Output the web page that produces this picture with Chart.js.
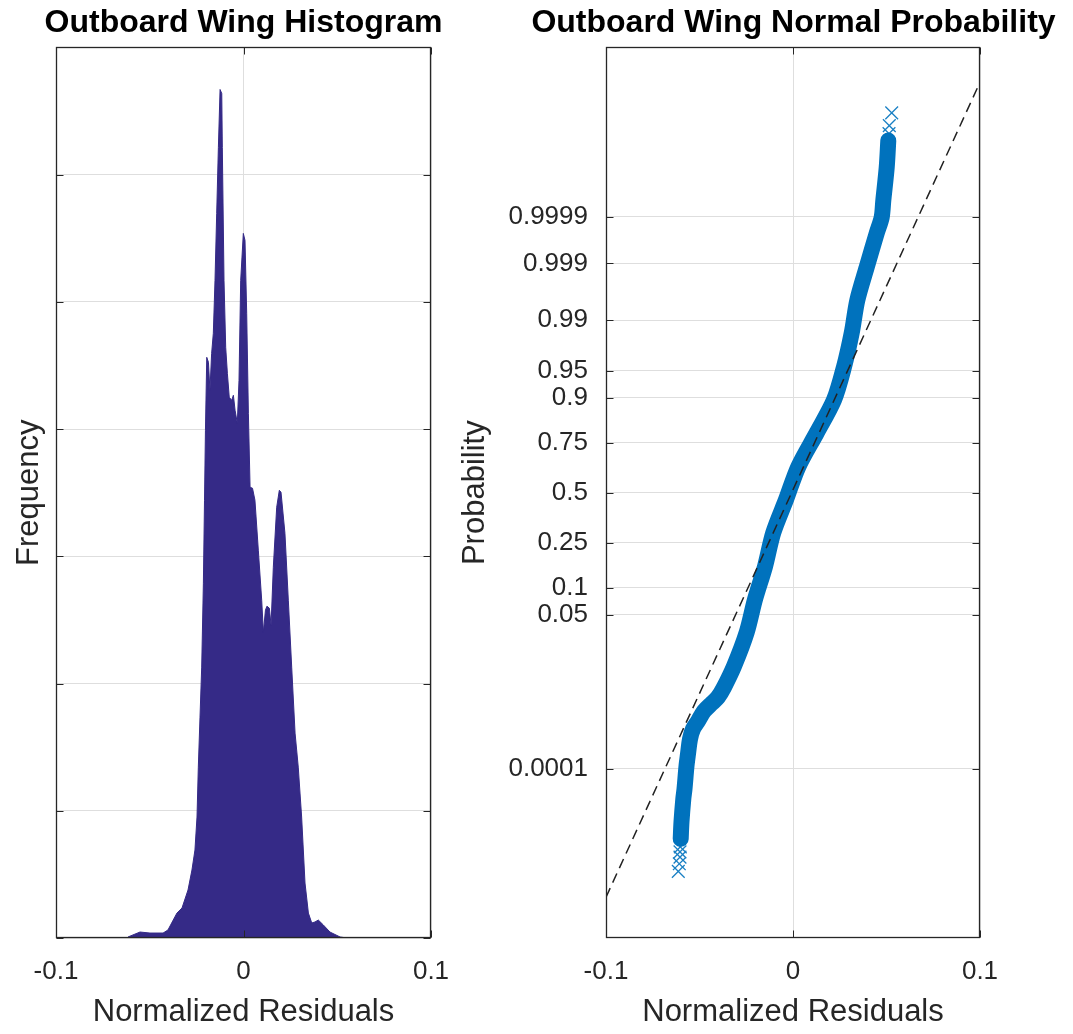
<!DOCTYPE html>
<html>
<head>
<meta charset="utf-8">
<title>Outboard Wing Residuals</title>
<script src="https://cdn.jsdelivr.net/npm/chart.js@4"></script>
<style>
    html, body { margin: 0; padding: 0; background: #fff; overflow: hidden; }
    #wrap { position: relative; width: 1073px; height: 1034px; overflow: hidden; }
    #histWrap { position: absolute; left: 0; top: 0; width: 487px; height: 1034px; }
    #probWrap { position: absolute; left: 440px; top: 0; width: 707px; height: 1034px; }
</style>
</head>
<body>
<div id="wrap">
    <div id="histWrap"><canvas id="histChart"></canvas></div>
    <div id="probWrap"><canvas id="probChart"></canvas></div>
</div>
<script>
// ===== DATA =====
// histogram outline (normalized residual, frequency in grid units)
const histX = [-0.0616, -0.0552, -0.0499, -0.0429, -0.0403, -0.0355, -0.0328, -0.0296, -0.0275, -0.0259,
    -0.0248, -0.0241, -0.0232, -0.0223, -0.0214, -0.0208, -0.0203, -0.0196, -0.0187, -0.0179,
    -0.0170, -0.0161, -0.0152, -0.0143, -0.0134, -0.0125, -0.0116, -0.0113, -0.0104, -0.0095,
    -0.0086, -0.0076, -0.0063, -0.0054, -0.0045, -0.0033, -0.0024, -0.0015, -0.0001, 0.0008,
    0.0017, 0.0026, 0.0035, 0.0048, 0.0061, 0.0079, 0.0097, 0.0106, 0.0117, 0.0125,
    0.0138, 0.0147, 0.0159, 0.0177, 0.0191, 0.0200, 0.0221, 0.0239, 0.0257, 0.0275,
    0.0292, 0.0310, 0.0328, 0.0346, 0.0364, 0.0381, 0.0399, 0.0426, 0.0461, 0.0515, 0.0552];
const histCount = [0.008, 0.047, 0.039, 0.039, 0.063, 0.196, 0.236, 0.377, 0.534, 0.691,
    0.951, 1.343, 1.736, 2.129, 2.789, 3.441, 3.991, 4.564, 4.525, 4.305,
    4.595, 4.753, 5.169, 5.695, 6.214, 6.669, 6.638, 6.214, 5.169, 4.643,
    4.438, 4.250, 4.226, 4.266, 4.148, 4.046, 4.383, 5.169, 5.538, 5.483,
    4.910, 4.124, 3.543, 3.535, 3.441, 3.048, 2.655, 2.404, 2.577, 2.608,
    2.592, 2.459, 2.914, 3.386, 3.519, 3.504, 3.181, 2.655, 2.129, 1.610,
    1.343, 0.951, 0.432, 0.196, 0.118, 0.126, 0.141, 0.102, 0.047, 0.008, 0];
const histTicks = [0, 1, 2, 3, 4, 5, 6, 7];

// normal probability plot: dense body of sorted residuals vs normal quantile
const probX = [-0.06005, -0.05963, -0.05866, -0.05802, -0.05695, -0.05615, -0.05508, -0.05348, -0.0508, -0.04759,
    -0.04332, -0.04011, -0.0369, -0.03155, -0.02476, -0.02032, -0.01497, -0.01053, -0.00374, 0.00283,
    0.01267, 0.02193, 0.02727, 0.03139, 0.03439, 0.03941, 0.04476, 0.04743, 0.04829, 0.05011, 0.05096];
const probZ = [-4.664, -4.435, -4.126, -3.992, -3.683, -3.522, -3.320, -3.185, -3.078, -2.944,
    -2.836, -2.755, -2.621, -2.339, -1.882, -1.438, -0.995, -0.538, -0.094, 0.349,
    0.806, 1.250, 1.694, 2.151, 2.594, 3.038, 3.495, 3.710, 3.938, 4.382, 4.745];
// separate markers in both tails
const tailX = [-0.06134, -0.0608, -0.06043, -0.06043, -0.06027, 0.05134, 0.0515, 0.05278];
const tailZ = [-5.103, -5.000, -4.910, -4.839, -4.772, 4.839, 4.946, 5.117];
// dashed reference line
const refX = [-0.1, 0.1];
const refZ = [-5.45, 5.53];

const probTicks = [0.0001, 0.05, 0.1, 0.25, 0.5, 0.75, 0.9, 0.95, 0.99, 0.999, 0.9999];
const probLabels = ['0.0001', '0.05', '0.1', '0.25', '0.5', '0.75', '0.9', '0.95', '0.99', '0.999', '0.9999'];
const xTicks = [-0.1, 0, 0.1];
const xLabels = ['-0.1', '0', '0.1'];

// ===== HELPERS =====
const FONT = "'Liberation Sans', Arial, Helvetica, sans-serif";
const TEXT = '#262626';
const GRID = '#dedede';

// inverse standard normal CDF (Acklam) - maps probability ticks to the z axis
function normInv(p) {
    const a = [-39.69683028665376, 220.9460984245205, -275.9285104469687, 138.357751867269, -30.66479806614716, 2.506628277459239];
    const b = [-54.47609879822406, 161.5858368580409, -155.6989798598866, 66.80131188771972, -13.28068155288572];
    const c = [-0.007784894002430293, -0.3223964580411365, -2.400758277161838, -2.549732539343734, 4.374664141464968, 2.938163982698783];
    const d = [0.007784695709041462, 0.3224671290700398, 2.445134137142996, 3.754408661907416];
    const pl = 0.02425;
    let q, r;
    if (p < pl) {
        q = Math.sqrt(-2 * Math.log(p));
        return (((((c[0] * q + c[1]) * q + c[2]) * q + c[3]) * q + c[4]) * q + c[5]) /
            ((((d[0] * q + d[1]) * q + d[2]) * q + d[3]) * q + 1);
    }
    if (p > 1 - pl) {
        q = Math.sqrt(-2 * Math.log(1 - p));
        return -(((((c[0] * q + c[1]) * q + c[2]) * q + c[3]) * q + c[4]) * q + c[5]) /
            ((((d[0] * q + d[1]) * q + d[2]) * q + d[3]) * q + 1);
    }
    q = p - 0.5;
    r = q * q;
    return (((((a[0] * r + a[1]) * r + a[2]) * r + a[3]) * r + a[4]) * r + a[5]) * q /
        (((((b[0] * r + b[1]) * r + b[2]) * r + b[3]) * r + b[4]) * r + 1);
}

function toPoints(xs, ys) {
    return xs.map((x, i) => ({ x: x, y: ys[i] }));
}

// axes box with inward tick marks on all four sides
const boxPlugin = {
    id: 'box',
    afterDraw(chart) {
        const { ctx, chartArea: a, scales } = chart;
        const L = Math.round(a.left) + 0.5, R = Math.round(a.right) - 0.5;
        const T = Math.round(a.top) + 0.5, B = Math.round(a.bottom) - 0.5;
        ctx.save();
        ctx.strokeStyle = TEXT;
        ctx.lineWidth = 1;
        ctx.beginPath();
        scales.y.ticks.forEach(t => {
            const py = Math.round(scales.y.getPixelForValue(t.value)) + 0.5;
            ctx.moveTo(L, py); ctx.lineTo(L + 7, py);
            ctx.moveTo(R, py); ctx.lineTo(R - 7, py);
        });
        scales.x.ticks.forEach(t => {
            const px = Math.round(scales.x.getPixelForValue(t.value)) + 0.5;
            ctx.moveTo(px, B); ctx.lineTo(px, B - 7);
            ctx.moveTo(px, T); ctx.lineTo(px, T + 7);
        });
        ctx.stroke();
        ctx.lineWidth = 1.3;
        ctx.strokeRect(L, T, R - L, B - T);
        ctx.restore();
    }
};

function xScale() {
    return {
        type: 'linear',
        min: -0.1,
        max: 0.1,
        afterBuildTicks: s => { s.ticks = xTicks.map(v => ({ value: v })); },
        afterFit: s => { s.height = 96; },
        grid: { color: GRID, drawTicks: false },
        border: { display: false },
        ticks: {
            maxRotation: 0,
            autoSkip: false,
            padding: 18,
            color: TEXT,
            font: { family: FONT, size: 26 },
            callback: (v, i) => xLabels[i]
        },
        title: {
            display: true,
            text: 'Normalized Residuals',
            color: TEXT,
            font: { family: FONT, size: 31 },
            padding: { top: 0, bottom: 3 }
        }
    };
}

// empty right-hand axis that only reserves space, so the title stays centred over the axes
function spacerScale(width) {
    return {
        type: 'linear',
        position: 'right',
        display: true,
        grid: { display: false },
        border: { display: false },
        ticks: { display: false },
        afterFit: s => { s.width = width; }
    };
}

function titleOpts(text) {
    return {
        display: true,
        text: text,
        color: '#000',
        font: { family: FONT, size: 32, weight: 'bold' },
        padding: { top: 4, bottom: 5 }
    };
}

Chart.defaults.animation = false;

// ===== HISTOGRAM =====
new Chart(document.getElementById('histChart'), {
    type: 'line',
    data: {
        datasets: [{
            data: toPoints(histX, histCount),
            borderColor: '#352A87',
            backgroundColor: '#352A87',
            borderWidth: 1,
            fill: 'origin',
            pointRadius: 0,
            tension: 0
        }]
    },
    options: {
        responsive: true,
        maintainAspectRatio: false,
        devicePixelRatio: 1,
        layout: { padding: 0 },
        plugins: {
            legend: { display: false },
            tooltip: { enabled: false },
            title: titleOpts('Outboard Wing Histogram')
        },
        scales: {
            x: xScale(),
            y: {
                type: 'linear',
                min: 0,
                max: 7,
                afterBuildTicks: s => { s.ticks = histTicks.map(v => ({ value: v })); },
                afterFit: s => { s.width = 56; },
                grid: { color: GRID, drawTicks: false },
                border: { display: false },
                ticks: { display: false },
                title: {
                    display: true,
                    text: 'Frequency',
                    color: TEXT,
                    font: { family: FONT, size: 31 },
                    padding: { top: 11, bottom: 0 }
                }
            },
            yPad: spacerScale(56)
        }
    },
    plugins: [boxPlugin]
});

// ===== NORMAL PROBABILITY =====
new Chart(document.getElementById('probChart'), {
    type: 'scatter',
    data: {
        datasets: [{
            data: toPoints(refX, refZ),
            showLine: true,
            borderColor: '#222',
            borderWidth: 1.5,
            borderDash: [10, 6],
            pointRadius: 0
        }, {
            data: toPoints(probX, probZ),
            showLine: true,
            borderColor: '#0072BD',
            borderWidth: 16,
            borderCapStyle: 'round',
            borderJoinStyle: 'round',
            tension: 0.3,
            pointRadius: 0
        }, {
            data: toPoints(tailX, tailZ),
            showLine: false,
            pointStyle: 'crossRot',
            pointRadius: 9,
            pointBorderWidth: 1.3,
            pointBorderColor: '#1a80c4',
            pointBackgroundColor: '#1a80c4'
        }]
    },
    options: {
        responsive: true,
        maintainAspectRatio: false,
        devicePixelRatio: 1,
        layout: { padding: 0 },
        plugins: {
            legend: { display: false },
            tooltip: { enabled: false },
            title: titleOpts('Outboard Wing Normal Probability')
        },
        scales: {
            x: xScale(),
            y: {
                type: 'linear',
                min: -6,
                max: 6,
                afterBuildTicks: s => { s.ticks = probTicks.map(p => ({ value: normInv(p) })); },
                afterFit: s => { s.width = 166; },
                grid: { color: GRID, drawTicks: false },
                border: { display: false },
                ticks: {
                    autoSkip: false,
                    padding: 18,
                    color: TEXT,
                    font: { family: FONT, size: 26 },
                    callback: (v, i) => probLabels[i]
                },
                title: {
                    display: true,
                    text: 'Probability',
                    color: TEXT,
                    font: { family: FONT, size: 31 },
                    padding: { top: 17, bottom: 0 }
                }
            },
            yPad: spacerScale(167)
        }
    },
    plugins: [boxPlugin]
});
</script>
</body>
</html>
